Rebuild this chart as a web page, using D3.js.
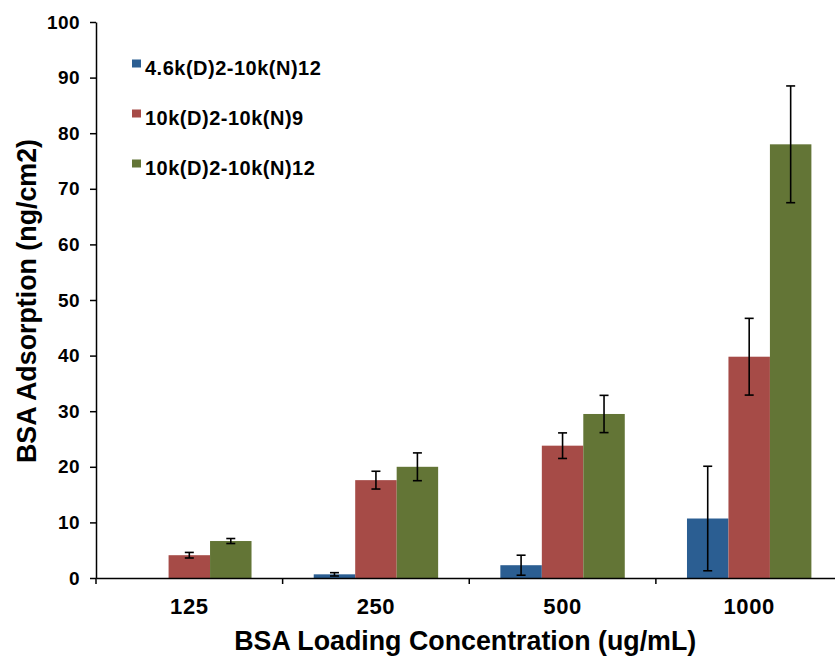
<!DOCTYPE html>
<html>
<head>
<meta charset="utf-8">
<script src="https://cdn.jsdelivr.net/npm/d3@7/dist/d3.min.js"></script>
<style>
  html, body { margin: 0; padding: 0; background: #fff; }
  svg { display: block; font-family: "Liberation Sans", Arial, Helvetica, sans-serif; font-weight: bold; }
</style>
</head>
<body>
<svg id="chart" width="835" height="656"></svg>
<script>
// BSA adsorption per loading concentration, three brush formulations
const categories = ["125", "250", "500", "1000"];
const seriesNames = ["4.6k(D)2-10k(N)12", "10k(D)2-10k(N)9", "10k(D)2-10k(N)12"];
const seriesColors = ["#2B5E92", "#A64B47", "#637536"];

const blueValues  = [null, 0.66, 2.3, 10.7];
const blueErrors  = [null, 0.3, 1.8, 9.4];
const redValues   = [4.1, 17.6, 23.8, 39.8];
const redErrors   = [0.5, 1.6, 2.3, 6.9];
const greenValues = [6.65, 20.0, 29.5, 78.0];
const greenErrors = [0.45, 2.5, 3.35, 10.5];

const yTicks = [0, 10, 20, 30, 40, 50, 60, 70, 80, 90, 100];

const seriesValues = [blueValues, redValues, greenValues];
const seriesErrors = [blueErrors, redErrors, greenErrors];

const svg = d3.select("#chart");

const x = d3.scaleBand().domain(categories).range([96, 842.5]).padding(0);
const x1 = d3.scaleBand().domain(seriesNames).range([0, x.bandwidth()])
  .paddingInner(0).paddingOuter(0.75);
const y = d3.scaleLinear().domain([0, 100]).range([578, 22]);

// bars
const rows = [];
categories.forEach((c, i) => {
  seriesNames.forEach((s, j) => {
    const v = seriesValues[j][i];
    if (v != null) rows.push({ c, s, j, v, e: seriesErrors[j][i] });
  });
});

svg.append("g").selectAll("rect").data(rows).join("rect")
  .attr("x", d => x(d.c) + x1(d.s))
  .attr("width", x1.bandwidth())
  .attr("y", d => y(d.v))
  .attr("height", d => y(0) - y(d.v))
  .attr("fill", d => seriesColors[d.j]);

// error bars
const eb = svg.append("g").attr("stroke", "#000").attr("stroke-width", 1.6);
rows.filter(d => d.e != null).forEach(d => {
  const cx = x(d.c) + x1(d.s) + x1.bandwidth() / 2;
  const lo = Math.max(0, d.v - d.e), hi = d.v + d.e;
  eb.append("line").attr("x1", cx).attr("x2", cx).attr("y1", y(lo)).attr("y2", y(hi));
  eb.append("line").attr("x1", cx - 4.5).attr("x2", cx + 4.5).attr("y1", y(hi)).attr("y2", y(hi));
  eb.append("line").attr("x1", cx - 4.5).attr("x2", cx + 4.5).attr("y1", y(lo)).attr("y2", y(lo));
});

// y axis
const yAxis = svg.append("g").attr("transform", "translate(96,0)")
  .call(d3.axisLeft(y).tickValues(yTicks).tickSize(6).tickPadding(10).tickSizeOuter(0));
yAxis.select(".domain").attr("stroke", "#000").attr("stroke-width", 1.5);
yAxis.selectAll(".tick line").attr("stroke", "#000").attr("stroke-width", 1.5);
yAxis.selectAll(".tick text")
  .attr("font-size", 19).attr("font-weight", "bold").attr("letter-spacing", "0.4px")
  .attr("fill", "#000").attr("font-family", "Liberation Sans, Arial, sans-serif");

// x axis: labels centred in each band, tick marks on the band boundaries
const xAxis = svg.append("g").attr("transform", `translate(0,${y(0)})`)
  .call(d3.axisBottom(x).tickSize(0).tickPadding(20).tickSizeOuter(0));
xAxis.select(".domain").attr("stroke", "#000").attr("stroke-width", 1.5);
xAxis.selectAll(".tick text")
  .attr("font-size", 22).attr("font-weight", "bold").attr("letter-spacing", "0.6px")
  .attr("fill", "#000").attr("font-family", "Liberation Sans, Arial, sans-serif");
xAxis.append("g").selectAll("line").data(categories).join("line")
  .attr("x1", d => x(d)).attr("x2", d => x(d))
  .attr("y1", 0).attr("y2", 6)
  .attr("stroke", "#000").attr("stroke-width", 1.5);

// axis titles
svg.append("text")
  .attr("x", (x.range()[0] + x.range()[1]) / 2 - 4).attr("y", 650)
  .attr("text-anchor", "middle").attr("font-size", 26.8).attr("fill", "#000")
  .text("BSA Loading Concentration (ug/mL)");

svg.append("text")
  .attr("transform", "translate(36,301) rotate(-90)")
  .attr("text-anchor", "middle").attr("font-size", 26.8).attr("fill", "#000")
  .text("BSA Adsorption (ng/cm2)");

// legend
const legend = svg.append("g");
seriesNames.forEach((s, j) => {
  const base = 75 + j * 50;
  legend.append("rect").attr("x", 132).attr("y", base - 15.5)
    .attr("width", 9).attr("height", 8).attr("fill", seriesColors[j]);
  legend.append("text").attr("x", 145).attr("y", base)
    .attr("font-size", 20).attr("letter-spacing", "0.5px").attr("fill", "#000")
    .text(s);
});
</script>
</body>
</html>
